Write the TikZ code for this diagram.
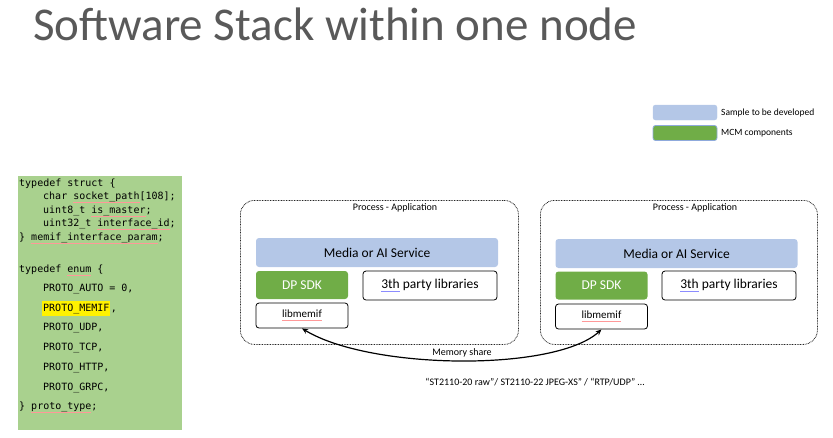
\documentclass[tikz,border=0pt]{standalone}
\usepackage{fontspec}
\setmainfont{Carlito}
\newfontfamily\codefont{DejaVu Sans Mono}
\usetikzlibrary{arrows.meta}
\definecolor{codegreen}{HTML}{A9D18E}
\definecolor{svcblue}{HTML}{B4C7E7}
\definecolor{mcmgreen}{HTML}{70AD47}
\definecolor{titlegray}{HTML}{595959}
\definecolor{legendedge}{HTML}{8FAADC}
\newsavebox\spellbox
\newcommand\spellred[1]{\sbox\spellbox{#1}\rlap{\textcolor{red!40}{\rule[-3.2pt]{\wd\spellbox}{0.45pt}}}\usebox\spellbox}
\newcommand\spellblue[1]{\sbox\spellbox{#1}\rlap{\textcolor{blue!45}{\rule[-3pt]{\wd\spellbox}{0.45pt}}}\usebox\spellbox}
\begin{document}
\begin{tikzpicture}[x=1pt,y=-1pt,
  codeline/.style={anchor=base west, inner sep=0pt, font=\codefont\fontsize{10}{12}\selectfont},
  procbox/.style={draw=black!85, dash pattern=on 0.8pt off 0.8pt, line width=0.8pt, rounded corners=14pt, anchor=north west},
  smalltext/.style={font=\fontsize{10}{12}\selectfont, inner sep=0pt},
  svcbox/.style={fill=svcblue, rounded corners=3pt, minimum width=242pt, minimum height=29pt, inner sep=0pt, font=\fontsize{13.5}{16}\selectfont},
  sdkbox/.style={fill=mcmgreen, text=white, rounded corners=3pt, minimum width=92pt, minimum height=28pt, inner sep=0pt, font=\fontsize{13.5}{16}\selectfont},
  libbox/.style={draw=black, line width=0.8pt, fill=white, rounded corners=3pt, minimum width=134pt, minimum height=29pt, inner sep=0pt, font=\fontsize{13.5}{16}\selectfont},
  memifbox/.style={draw=black, line width=0.8pt, fill=white, rounded corners=3pt, minimum width=92pt, minimum height=25pt, inner sep=0pt, font=\fontsize{11}{13}\selectfont},
  memarrow/.style={{Stealth[length=6pt,width=5pt]}-{Stealth[length=6pt,width=5pt]}, line width=1.2pt, black},
  legendbox/.style={rounded corners=2.5pt, minimum width=64pt, minimum height=15pt, inner sep=0pt},
  legendtext/.style={anchor=west, inner sep=0pt, font=\fontsize{9.5}{11}\selectfont}
]
\useasboundingbox (0,0) rectangle (833,437);

% title
\node[anchor=base west, inner sep=0pt, text=titlegray, font=\fontsize{47}{52}\selectfont] (title) at (33,40) {Software Stack within one node};

% legend
\node[legendbox, fill=svcblue, draw=svcblue] (legA) at (685,112.5) {};
\node[legendtext] (legAt) at (721,113) {Sample to be developed};
\node[legendbox, fill=mcmgreen, draw=legendedge, line width=0.8pt] (legB) at (685,133) {};
\node[legendtext] (legBt) at (721,133) {MCM components};

% code panel
\node[fill=codegreen, minimum width=164pt, minimum height=254pt, inner sep=0pt, anchor=north west] (code) at (18,176) {};
\node[codeline] (c1) at (19,186.5) {typedef struct \{};
\node[codeline] (c2) at (43,199.5) {char \spellred{socket\_path}[108];};
\node[codeline] (c3) at (43,213) {uint8\_t \spellred{is\_master};};
\node[codeline] (c4) at (43,226.5) {uint32\_t \spellred{interface\_id};};
\node[codeline] (c5) at (19,240) {\} \spellred{memif\_interface\_param};};
\node[codeline] (c6) at (19,272.5) {typedef \spellred{enum} \{};
\node[codeline] (c7) at (43,291.5) {PROTO\_AUTO = 0,};
\node[codeline, fill=yellow, inner xsep=1pt, inner ysep=2.5pt] (c8) at (42,311) {PROTO\_MEMIF};
\node[codeline] (c8b) at (c8.base east) {,};
\node[codeline] (c9) at (43,330.5) {PROTO\_UDP,};
\node[codeline] (c10) at (43,350.5) {PROTO\_TCP,};
\node[codeline] (c11) at (43,370) {PROTO\_HTTP,};
\node[codeline] (c12) at (43,390) {PROTO\_GRPC,};
\node[codeline] (c13) at (19,409.5) {\} \spellred{proto\_type};};

% left process
\node[procbox, minimum width=278pt, minimum height=144pt] (lproc) at (240,200) {};
\node[smalltext] (lprocl) at (395,208) {Process - Application};
\node[svcbox] (lsvc) at (377,252.5) {Media or AI Service};
\node[sdkbox] (lsdk) at (302,285) {DP SDK};
\node[libbox] (llib) at (430,285.5) {\spellblue{3th} party libraries};
\node[memifbox] (lmem) at (302,315.5) {\spellred{libmemif}};

% right process
\node[procbox, minimum width=277pt, minimum height=144pt] (rproc) at (540,200) {};
\node[smalltext] (rprocl) at (695,208) {Process - Application};
\node[svcbox] (rsvc) at (676.5,253.5) {Media or AI Service};
\node[sdkbox] (rsdk) at (601.5,285.5) {DP SDK};
\node[libbox] (rlib) at (729,285.5) {\spellblue{3th} party libraries};
\node[memifbox] (rmem) at (601.5,316.5) {\spellred{libmemif}};

% memory share connector
\draw[memarrow] (lmem.south) .. controls (370,370) and (555,372) .. (rmem.south);
\node[smalltext] (memlbl) at (462,353) {Memory share};
\node[smalltext] (fmt) at (535,382) {“ST2110-20 raw”/ ST2110-22 JPEG-XS” / “RTP/UDP” …};
\end{tikzpicture}
\end{document}
